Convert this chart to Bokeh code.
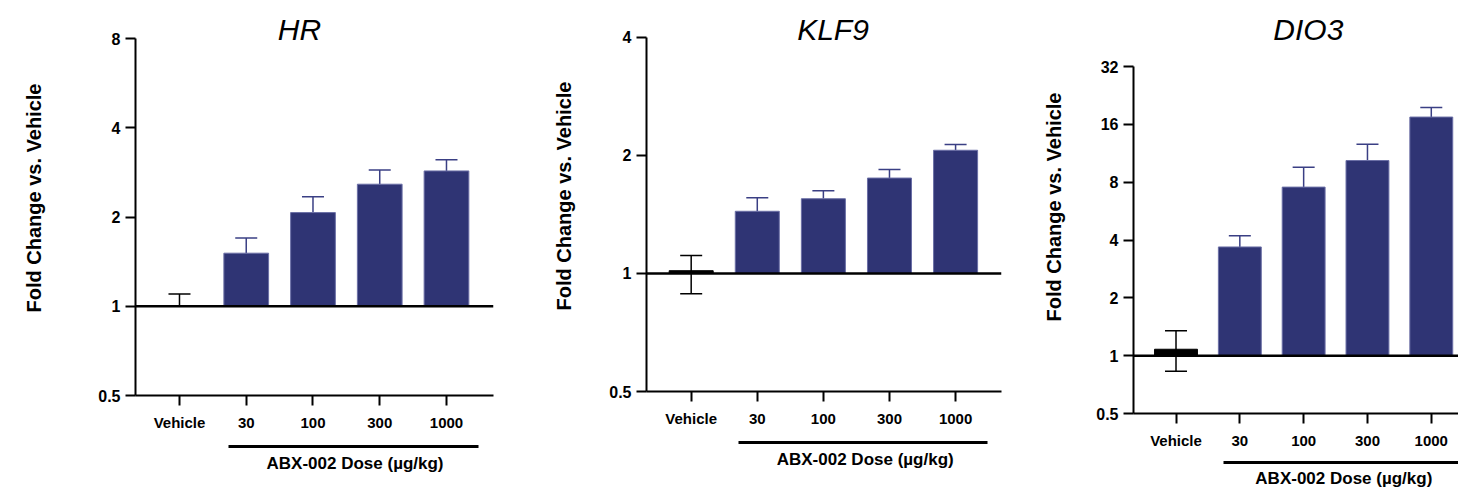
import math
from bokeh.plotting import figure
from bokeh.models import (Range1d, FixedTicker, CustomJSTickFormatter, Span, Whisker,
                          TeeHead, Label, LinearAxis, ColumnDataSource)
from bokeh.layouts import row
from bokeh.embed import file_html
from bokeh.resources import INLINE

# ---------------- data ----------------
categories = ["Vehicle", "30", "100", "300", "1000"]
group_label = "ABX-002 Dose (µg/kg)"
y_label = "Fold Change vs. Vehicle"

hr_mean = [1.00, 1.51, 2.07, 2.58, 2.86]
hr_upper = [1.10, 1.70, 2.34, 2.88, 3.12]
hr_vehicle_lower = None
hr_ticks = [0.5, 1, 2, 4, 8]

klf9_mean = [1.016, 1.44, 1.55, 1.75, 2.06]
klf9_upper = [1.11, 1.56, 1.625, 1.84, 2.13]
klf9_vehicle_lower = 0.888
klf9_ticks = [0.5, 1, 2, 4]

dio3_mean = [1.08, 3.68, 7.54, 10.37, 17.46]
dio3_upper = [1.35, 4.21, 9.57, 12.6, 19.6]
dio3_vehicle_lower = 0.83
dio3_ticks = [0.5, 1, 2, 4, 8, 16, 32]

FONT = "Liberation Sans"
BAR = "#2f3474"
BAR_EDGE = "#6b6fa6"
WHISK = "#3a3f84"
BOTTOM = 80  # common bottom border (px)


def style_axis(ax, size):
    ax.axis_line_width = 2
    ax.axis_line_color = "black"
    ax.major_tick_line_width = 2
    ax.major_tick_line_color = "black"
    ax.major_tick_out = 10
    ax.major_tick_in = 0
    ax.minor_tick_line_color = None
    ax.major_label_text_font = FONT
    ax.major_label_text_font_style = "bold"
    ax.major_label_text_font_size = size
    ax.major_label_text_color = "black"


def panel(gene, means, uppers, veh_lower, ticks, fig_w, bl, br, frame_bottom, top_px,
          x_start, spacing, bar_w, title_x, ylab_standoff, gap, grp_standoff, grp_x, line_x):
    frame_w = fig_w - bl - br
    n_dbl = math.log2(ticks[-1] / ticks[0])
    d = (frame_bottom - top_px) / n_dbl
    y_top = ticks[-1] * 2 ** (top_px / d)
    xs = list(range(len(categories)))

    p = figure(width=fig_w, height=frame_bottom + BOTTOM, title=None,
               x_range=Range1d(x_start, x_start + frame_w / spacing),
               y_range=Range1d(ticks[0], y_top), y_axis_type="log",
               output_backend="svg", toolbar_location=None,
               min_border_left=bl, min_border_right=br,
               min_border_top=0, min_border_bottom=BOTTOM)
    p.outline_line_color = None
    p.xgrid.visible = False
    p.ygrid.visible = False

    p.xaxis.ticker = FixedTicker(ticks=xs)
    p.xaxis.major_label_overrides = {i: c for i, c in enumerate(categories)}
    p.yaxis.ticker = FixedTicker(ticks=ticks)
    p.yaxis.formatter = CustomJSTickFormatter(code="return String(tick)")
    p.yaxis.bounds = (ticks[0], ticks[-1])
    style_axis(p.xaxis[0], "15px")
    style_axis(p.yaxis[0], "16px")
    p.xaxis.major_label_standoff = 8
    p.yaxis.major_label_standoff = 5
    p.yaxis.axis_label = y_label
    p.yaxis.axis_label_text_font = FONT
    p.yaxis.axis_label_text_font_style = "bold"
    p.yaxis.axis_label_text_font_size = "20px"
    p.yaxis.axis_label_text_color = "black"
    p.yaxis.axis_label_standoff = ylab_standoff

    # invisible spacer axis: only reserves vertical room under the tick labels
    sp = LinearAxis(ticker=FixedTicker(ticks=[grp_x]),
                    formatter=CustomJSTickFormatter(code="return ''"))
    sp.axis_line_color = None
    sp.major_tick_out = gap
    sp.major_tick_in = 0
    sp.major_tick_line_color = None
    sp.minor_tick_line_color = None
    sp.major_label_standoff = 0
    sp.major_label_text_font_size = "1px"
    p.add_layout(sp, "below")

    # group (dose) axis: its line is the bracket bar, its single label the group name
    g = LinearAxis(ticker=FixedTicker(ticks=[grp_x]),
                   formatter=CustomJSTickFormatter(args=dict(t=group_label), code="return t"),
                   bounds=line_x)
    g.axis_line_width = 3
    g.axis_line_color = "black"
    g.major_tick_out = 0
    g.major_tick_in = 0
    g.major_tick_line_color = None
    g.minor_tick_line_color = None
    g.major_label_standoff = grp_standoff
    g.major_label_text_font = FONT
    g.major_label_text_font_style = "bold"
    g.major_label_text_font_size = "17px"
    g.major_label_text_color = "black"
    p.add_layout(g, "below")

    fills = ["black"] + [BAR] * (len(categories) - 1)
    edges = ["black"] + [BAR_EDGE] * (len(categories) - 1)
    src = ColumnDataSource(dict(x=xs, top=means, fill=fills, line=edges))
    p.vbar(x="x", top="top", bottom=1, width=bar_w, fill_color="fill",
           line_color="line", line_width=1, source=src)

    p.add_layout(Span(location=1, dimension="width", line_color="black", line_width=2.5))

    dsrc = ColumnDataSource(dict(x=xs[1:], lower=means[1:], upper=uppers[1:]))
    p.add_layout(Whisker(base="x", lower="lower", upper="upper", source=dsrc,
                         line_color=WHISK, line_width=1.5,
                         upper_head=TeeHead(size=22, line_color=WHISK, line_width=1.5),
                         lower_head=None))
    vlow = means[0] if veh_lower is None else veh_lower
    vsrc = ColumnDataSource(dict(x=xs[:1], lower=[vlow], upper=uppers[:1]))
    p.add_layout(Whisker(base="x", lower="lower", upper="upper", source=vsrc,
                         line_color="black", line_width=1.5,
                         upper_head=TeeHead(size=22, line_color="black", line_width=1.5),
                         lower_head=(None if veh_lower is None else
                                     TeeHead(size=22, line_color="black", line_width=1.5))))

    p.add_layout(Label(x=title_x, y=frame_bottom - 29, x_units="screen", y_units="screen",
                       text=gene, text_font=FONT, text_font_style="italic",
                       text_font_size="30px", text_align="center",
                       text_baseline="alphabetic", text_color="black"))
    return p


p1 = panel("HR", hr_mean, hr_upper, hr_vehicle_lower, hr_ticks, 526, 135, 33, 395, 38,
           -0.659, 66.75, 0.67, 164, 50, 13, 7, 2.63, (0.73, 4.48))
p2 = panel("KLF9", klf9_mean, klf9_upper, klf9_vehicle_lower, klf9_ticks, 514, 120, 39, 391, 36.7,
           -0.676, 66.1, 0.666, 186.5, 31, 13, 7, 2.633, (0.716, 4.483))
p3 = panel("DIO3", dio3_mean, dio3_upper, dio3_vehicle_lower, dio3_ticks, 418, 87, 0, 413, 66,
           -0.666, 65, 0.672, 174.8, 28, 11, 6, 2.63, (0.739, 4.6))

layout = row(p1, p2, p3)
open("out.html", "w").write(file_html(layout, INLINE, title="Fold change"))
